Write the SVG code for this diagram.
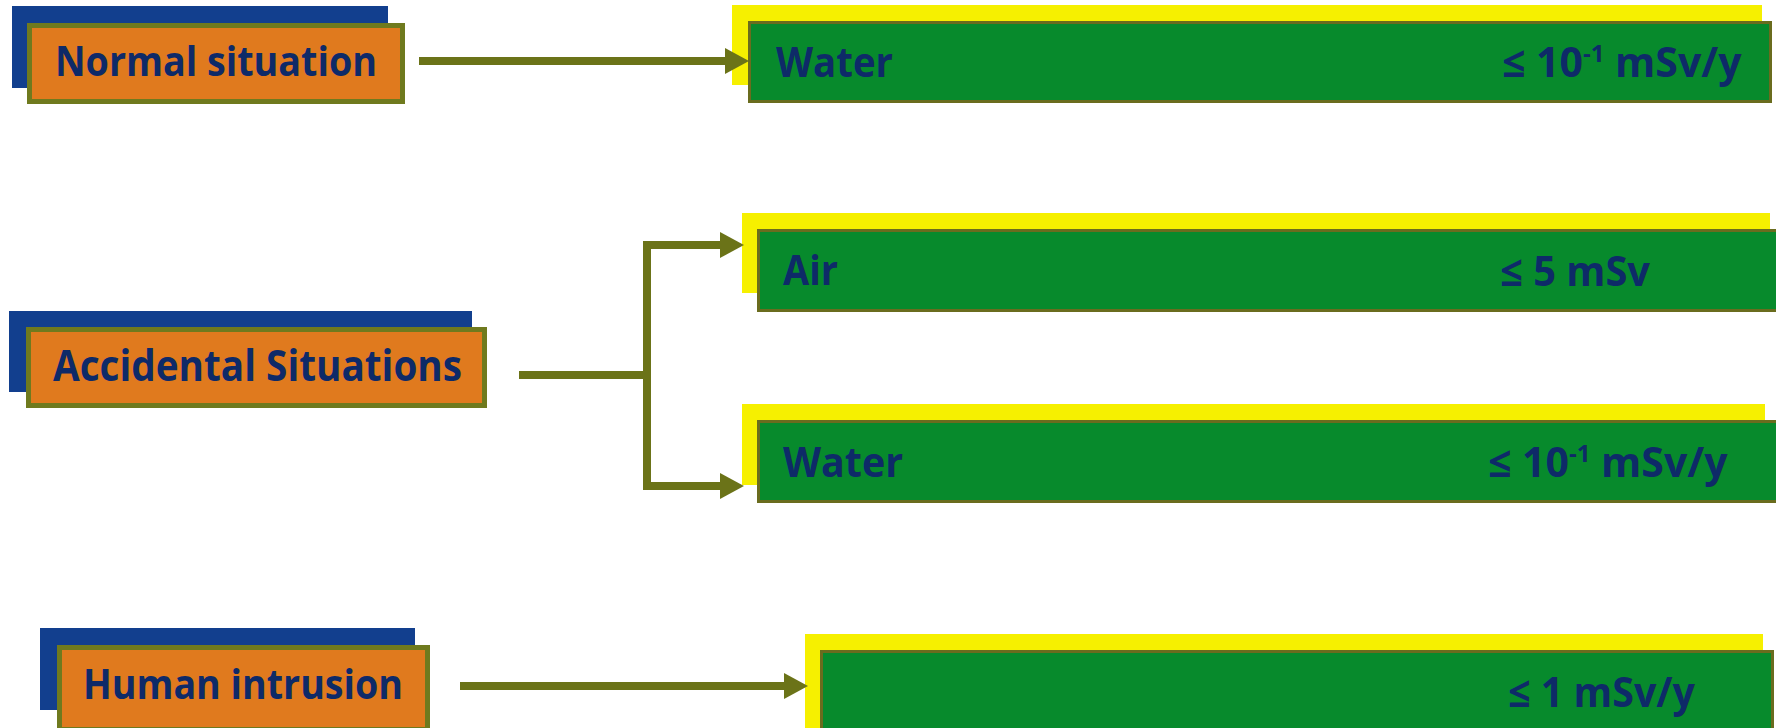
<svg xmlns="http://www.w3.org/2000/svg" width="1776" height="728" viewBox="0 0 1776 728">
<style>
.shadow{fill:#123f8e}
.box{fill:#e07a1e;stroke:#6f7a1e;stroke-width:5}
.glow{fill:#f6f000}
.bar{fill:#078a2c;stroke:#6a6c1e;stroke-width:3}
.t{font-family:"Open Sans","Noto Sans","DejaVu Sans",sans-serif;font-weight:700;fill:#0e2a68}
.conn{fill:none;stroke:#6b7318;stroke-width:8;stroke-linejoin:miter}
</style>
<defs>
<marker id="ah" markerUnits="userSpaceOnUse" markerWidth="24" markerHeight="26" refX="0" refY="13" orient="auto">
<path d="M0,0 L24,13 L0,26 z" fill="#6b7318"/>
</marker>
</defs>
<rect width="1776" height="728" fill="#ffffff"/>

<g id="normal">
<rect class="shadow" x="12" y="6" width="376" height="82"/>
<rect class="box" x="29.5" y="25.5" width="373" height="76"/>
<text class="t" x="55" y="76" font-size="41" textLength="322" lengthAdjust="spacingAndGlyphs">Normal situation</text>
</g>

<g id="accidental">
<rect class="shadow" x="9" y="311" width="463" height="81"/>
<rect class="box" x="28.5" y="329.5" width="456" height="76"/>
<text class="t" x="53" y="381" font-size="43" textLength="409" lengthAdjust="spacingAndGlyphs">Accidental Situations</text>
</g>

<g id="intrusion">
<rect class="shadow" x="40" y="628" width="375" height="82"/>
<rect class="box" x="59.5" y="647.5" width="368" height="82"/>
<text class="t" x="83" y="699" font-size="42" textLength="320" lengthAdjust="spacingAndGlyphs">Human intrusion</text>
</g>

<g id="water-normal">
<rect class="glow" x="732" y="5" width="1030" height="80"/>
<rect class="bar" x="749.5" y="22.5" width="1021" height="79"/>
<text class="t" x="776" y="77" font-size="41" textLength="117" lengthAdjust="spacingAndGlyphs">Water</text>
<text class="t" x="1502" y="77" font-size="41">≤ 10<tspan font-size="24" dy="-15">-1</tspan><tspan dy="15"> mSv/y</tspan></text>
</g>

<g id="air-accidental">
<rect class="glow" x="742" y="213" width="1028" height="80"/>
<rect class="bar" x="758.5" y="230.5" width="1020" height="80"/>
<text class="t" x="783" y="285" font-size="41" textLength="55" lengthAdjust="spacingAndGlyphs">Air</text>
<text class="t" x="1500" y="286" font-size="41" textLength="150" lengthAdjust="spacingAndGlyphs">≤ 5 mSv</text>
</g>

<g id="water-accidental">
<rect class="glow" x="742" y="404" width="1023" height="81"/>
<rect class="bar" x="758.5" y="421.5" width="1020" height="80"/>
<text class="t" x="783" y="477" font-size="41" textLength="120" lengthAdjust="spacingAndGlyphs">Water</text>
<text class="t" x="1488" y="477" font-size="41">≤ 10<tspan font-size="24" dy="-15">-1</tspan><tspan dy="15"> mSv/y</tspan></text>
</g>

<g id="human-limit">
<rect class="glow" x="805" y="634" width="958" height="94"/>
<rect class="bar" x="821.5" y="651.5" width="951" height="80"/>
<text class="t" x="1508" y="707" font-size="41" textLength="187" lengthAdjust="spacingAndGlyphs">≤ 1 mSv/y</text>
</g>

<g id="connectors">
<path class="conn" d="M419 61 H725" marker-end="url(#ah)"/>
<path class="conn" d="M519 375 H647"/>
<path class="conn" d="M647 379 V245 H720" marker-end="url(#ah)"/>
<path class="conn" d="M647 371 V486 H720" marker-end="url(#ah)"/>
<path class="conn" d="M460 686 H784" marker-end="url(#ah)"/>
</g>
</svg>
